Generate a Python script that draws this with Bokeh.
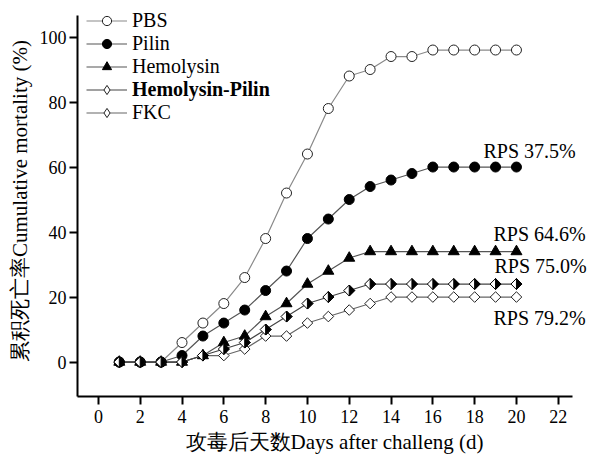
import math
from urllib.parse import quote
from bokeh.plotting import figure
from bokeh.models import (ColumnDataSource, Legend, LegendItem, Label, Title,
                          FixedTicker, Range1d)
from bokeh.core.properties import value
from bokeh.embed import file_html
from bokeh.resources import INLINE

# ---------------- data ----------------
days = list(range(1, 21))
pbs = [0, 0, 0, 6, 12, 18, 26, 38, 52, 64, 78, 88, 90, 94, 94, 96, 96, 96, 96, 96]
pilin = [0, 0, 0, 2, 8, 12, 16, 22, 28, 38, 44, 50, 54, 56, 58, 60, 60, 60, 60, 60]
hemolysin = [0, 0, 0, 0, 2, 6, 8, 14, 18, 24, 28, 32, 34, 34, 34, 34, 34, 34, 34, 34]
hemo_pilin = [0, 0, 0, 0, 2, 4, 6, 10, 14, 18, 20, 22, 24, 24, 24, 24, 24, 24, 24, 24]
fkc = [0, 0, 0, 0, 2, 2, 4, 8, 8, 12, 14, 16, 18, 20, 20, 20, 20, 20, 20, 20]
series_names = ["PBS", "Pilin", "Hemolysin", "Hemolysin-Pilin", "FKC"]
rps_labels = ["RPS 37.5%", "RPS 64.6%", "RPS 75.0%", "RPS 79.2%"]
x_ticks = list(range(0, 23, 2))
y_ticks = list(range(0, 101, 20))
x_label = "攻毒后天数Days after challeng (d)"
y_label = "累积死亡率Cumulative mortality (%)"

SERIF = "Liberation Serif"

p = figure(width=591, height=455, output_backend="svg", toolbar_location=None,
           x_range=Range1d(-1.0, 23.59), y_range=Range1d(-10.6, 109.7),
           min_border_left=77, min_border_right=0, min_border_top=5,
           min_border_bottom=0)
p.outline_line_color = None
p.grid.visible = False
p.background_fill_color = "white"

for ax in (p.xaxis[0], p.yaxis[0]):
    ax.axis_line_width = 2
    ax.axis_line_color = "black"
    ax.major_tick_line_width = 2
    ax.major_tick_line_color = "black"
    ax.major_tick_out = 8
    ax.major_tick_in = 0
    ax.minor_tick_line_color = None
    ax.major_label_text_font = SERIF
    ax.major_label_text_font_size = "18px"
    ax.major_label_text_color = "black"
    ax.axis_label_text_font = SERIF
    ax.axis_label_text_font_size = "21px"
    ax.axis_label_text_font_style = "normal"
    ax.axis_label_text_color = "black"

p.xaxis.ticker = FixedTicker(ticks=x_ticks)
p.yaxis.ticker = FixedTicker(ticks=y_ticks)
p.xaxis.bounds = (-1.0, 22.7)
p.yaxis.bounds = (-10.6, 106.6)
p.yaxis.axis_label = y_label
p.xaxis.major_label_standoff = 5
p.yaxis.major_label_standoff = 3
p.yaxis.axis_label_standoff = 5

# x-axis title placed below the axis, shifted right like the original
p.add_layout(Title(text=x_label, align="center", offset=13, standoff=4,
                   text_font=SERIF, text_font_size="21px",
                   text_font_style="normal", text_color="black"), "below")

src = ColumnDataSource(dict(x=days, pbs=pbs, pilin=pilin, hemo=hemolysin,
                            hp=hemo_pilin, fkc=fkc))

# PBS
r_pbs_l = p.line("x", "pbs", source=src, line_color="#8a8a8a", line_width=1.2)
r_pbs_m = p.scatter("x", "pbs", source=src, marker="circle", size=10,
                    fill_color="white", line_color="#222222", line_width=1)
# Pilin
r_pil_l = p.line("x", "pilin", source=src, line_color="#555555", line_width=1.2)
r_pil_m = p.scatter("x", "pilin", source=src, marker="circle", size=10,
                    fill_color="black", line_color="black")
# Hemolysin
r_hem_l = p.line("x", "hemo", source=src, line_color="#555555", line_width=1.2)
r_hem_m = p.scatter("x", "hemo", source=src, marker="triangle", size=11,
                    fill_color="black", line_color="black")
# FKC : legend diamond drawn first (hidden under the rotated squares)
r_fkc_l = p.line("x", "fkc", source=src, line_color="#666666", line_width=1.2)
r_fkc_leg = p.scatter("x", "fkc", source=src, marker="diamond", size=5,
                      fill_color="white", line_color="#222222", line_width=1)
r_fkc_m = p.scatter("x", "fkc", source=src, marker="square", size=7.5,
                    angle=math.pi / 4, fill_color="white", line_color="#222222",
                    line_width=1)
# Hemolysin-Pilin : diamond, right half black
r_hp_l = p.line("x", "hp", source=src, line_color="#444444", line_width=1.2)
r_hp_leg = p.scatter("x", "hp", source=src, marker="diamond", size=5,
                     fill_color="white", line_color="#222222", line_width=1)
half_svg = ('<svg xmlns="http://www.w3.org/2000/svg" width="13" height="13" viewBox="0 0 13 13">'
            '<polygon points="6.5,1 12,6.5 6.5,12 1,6.5" fill="white" stroke="black" stroke-width="1"/>'
            '<polygon points="6.5,1 12,6.5 6.5,12" fill="black" stroke="black" stroke-width="1"/>'
            '</svg>')
half_uri = "data:image/svg+xml;utf8," + quote(half_svg)
r_hp_m = p.image_url(url=value(half_uri), x="x", y="hp", w=13, h=13,
                     w_units="screen", h_units="screen", anchor="center", source=src)


def make_legend(items, vy, bold=False):
    lg = Legend(items=items, location=(9, vy), orientation="vertical",
                glyph_width=41, glyph_height=23, label_height=23, spacing=0,
                padding=0, margin=0, label_standoff=5,
                border_line_color=None, background_fill_alpha=0,
                label_text_font=SERIF, label_text_font_size="20px",
                label_text_font_style="bold" if bold else "normal",
                label_text_color="black")
    p.add_layout(lg)
    return lg


make_legend([LegendItem(label=series_names[0], renderers=[r_pbs_l, r_pbs_m]),
             LegendItem(label=series_names[1], renderers=[r_pil_l, r_pil_m]),
             LegendItem(label=series_names[2], renderers=[r_hem_l, r_hem_m])], 318)
make_legend([LegendItem(label=series_names[3], renderers=[r_hp_l, r_hp_leg])],
            295, bold=True)
make_legend([LegendItem(label=series_names[4], renderers=[r_fkc_l, r_fkc_leg])], 272)

# RPS annotations anchored to the final value of each vaccinated group
finals = [pilin[-1], hemolysin[-1], hemo_pilin[-1], fkc[-1]]
x_offsets = [-33, -23, -22, -23]
y_offsets = [16, 18, 18, -21]
for txt, fv, xo, yo in zip(rps_labels, finals, x_offsets, y_offsets):
    p.add_layout(Label(x=days[-1], y=fv, text=txt, x_offset=xo, y_offset=yo,
                       text_font=SERIF, text_font_size="20px",
                       text_baseline="middle", text_align="left",
                       text_color="black"))

open("out.html", "w").write(file_html(p, INLINE))
